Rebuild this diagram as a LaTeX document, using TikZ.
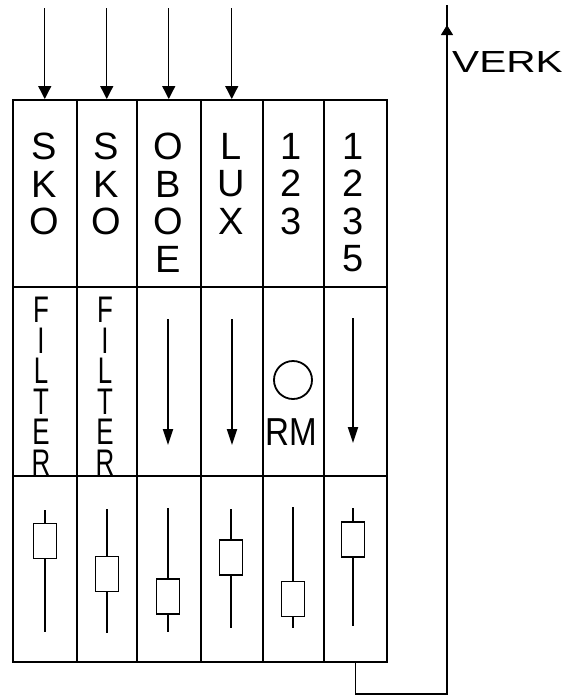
\documentclass[tikz,border=0pt]{standalone}
\usepackage{fontspec}
\setmainfont{Liberation Sans}
\newfontfamily\narrowf[FakeStretch=0.7]{Liberation Sans}
\newfontfamily\widef[FakeStretch=1.33]{Liberation Sans}
\newfontfamily\rmf[FakeStretch=0.85]{Liberation Sans}
\usetikzlibrary{arrows.meta}
\tikzset{
  cell/.style={draw, line width=1.5pt, inner sep=0pt, anchor=north west},
  inarr/.style={line width=1.3pt, -{Triangle[width=13pt,length=13pt]}},
  midarr/.style={line width=2pt, -{Triangle[width=10pt,length=16pt]}},
  track/.style={line width=2pt},
  knob/.style={draw, fill=white, line width=1.8pt, minimum width=23pt, minimum height=35pt, inner sep=0pt},
  stack/.style={align=center, inner sep=0pt, anchor=north, font=\fontsize{38}{37.5}\selectfont},
  filt/.style={align=center, inner sep=0pt, anchor=north, font=\narrowf\fontsize{37}{30.5}\selectfont},
  outline/.style={line width=1.2pt}
}
\begin{document}
\begin{tikzpicture}[x=1pt,y=-1pt]
\useasboundingbox (0,0) rectangle (569,697);
% cells
\foreach \i/\l/\w in {1/12/64,2/76/60,3/136/64,4/200/62,5/262/61,6/323/63} {
  \node[cell, minimum width=\w pt, minimum height=187pt] (a\i) at (\l,99) {};
  \node[cell, minimum width=\w pt, minimum height=189pt] (b\i) at (\l,286) {};
  \node[cell, minimum width=\w pt, minimum height=186pt] (c\i) at (\l,475) {};
}
% input arrows
\coordinate (top) at (0,8);
\foreach \i in {1,...,4} {
  \draw[inarr] (a\i.north |- top) -- (a\i.north);
}
% top row texts
\node[stack] (t1) at (44,133) {S\\K\\O};
\node[stack] (t2) at (106,133) {S\\K\\O};
\node[stack] (t3) at (168,133) {O\\B\\O\\E};
\node[stack] (t4) at (231,133) {L\\U\\X};
\node[stack] (t5) at (291,133) {1\\2\\3};
\node[stack] (t6) at (353,133) {1\\2\\3\\5};
% middle row
\node[filt] (f1) at (41,297) {F\\I\\L\\T\\E\\R};
\node[filt] (f2) at (105,297) {F\\I\\L\\T\\E\\R};
\coordinate (m3s) at (168,319); \coordinate (m3e) at (168,445);
\coordinate (m4s) at (232,319); \coordinate (m4e) at (232,445);
\coordinate (m6s) at (353,318); \coordinate (m6e) at (353,443);
\draw[midarr] (m3s) -- (m3e);
\draw[midarr] (m4s) -- (m4e);
\draw[midarr] (m6s) -- (m6e);
\node[draw, circle, line width=1.8pt, minimum size=38pt, inner sep=0pt] (rmc) at (293,380) {};
\node[anchor=base, inner sep=0pt, font=\rmf\fontsize{39}{39}\selectfont] (rm) at (291,445) {RM};
% sliders
\foreach \i/\x/\ya/\yb/\ky in {1/45/510/632/541, 2/107/509/633/574, 3/168/508/632/596.5, 4/231/509/628/557.5, 5/293/507/628/599, 6/353/508/626/539.5} {
  \coordinate (s\i a) at (\x,\ya);
  \coordinate (s\i b) at (\x,\yb);
  \draw[track] (s\i a) -- (s\i b);
  \node[knob] (k\i) at (\x,\ky) {};
}
% output
\coordinate (ob) at (447,694);
\coordinate (ot) at (447,5);
\coordinate (otip) at (447,25);
\draw[outline] (c6.south) |- (ob) -- (ot);
\draw[outline, -{Triangle[width=12pt,length=10pt]}] (ob) -- (otip);
\node[anchor=base west, inner sep=0pt, font=\widef\fontsize{30.5}{30.5}\selectfont] (verk) at (452,72) {VERK};
\end{tikzpicture}
\end{document}
